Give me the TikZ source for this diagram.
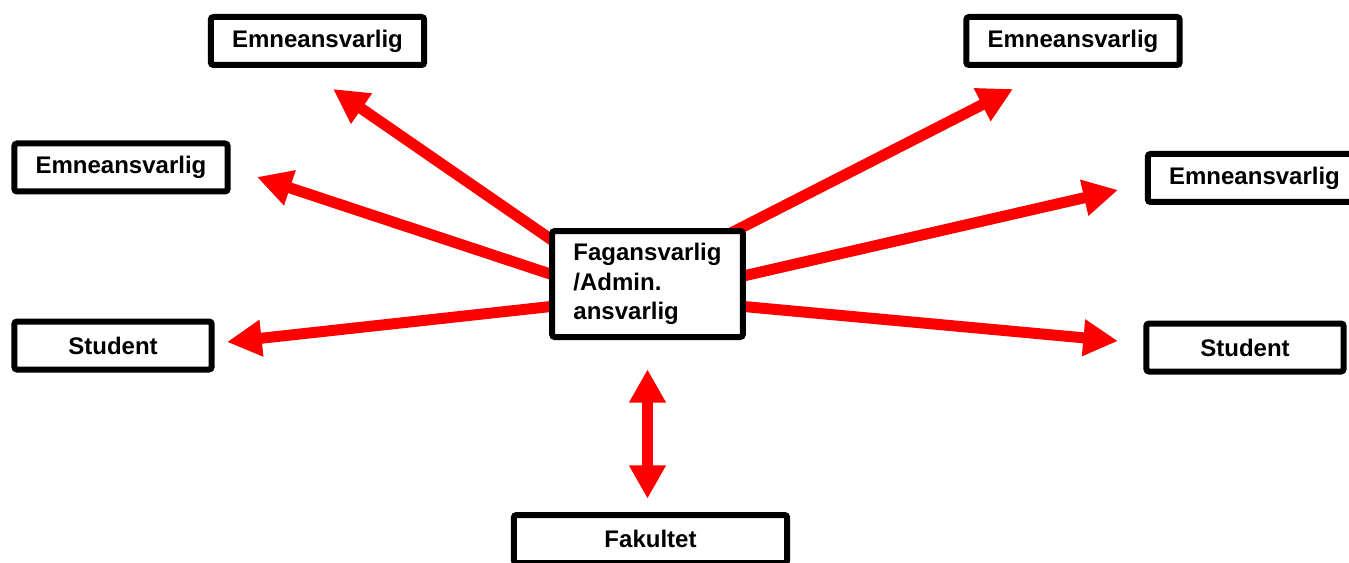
\documentclass[tikz,border=0pt]{standalone}
\usepackage{fontspec}
\setmainfont{Liberation Sans}
\usetikzlibrary{arrows.meta,backgrounds}

\tikzset{
  boks/.style={draw=black,line width=4.5pt,rounded corners=2pt,fill=white,
    inner sep=0pt,minimum width=160pt,minimum height=36pt,
    font=\bfseries\fontsize{18}{22}\selectfont},
  pil/.style={draw=red,line width=8.25pt,-{Triangle[width=26pt,length=26pt]},
    shorten <=-8pt},
  dobbelpil/.style={draw=red,line width=8.5pt,
    {Triangle[width=26pt,length=25pt]}-{Triangle[width=26pt,length=25pt]}}
}

\begin{document}
\begin{tikzpicture}[x=0.75pt,y={(0pt,-0.75pt)}]
    \useasboundingbox (0,0) rectangle (1349,563);
    %midten
    \node[boks,minimum width=143pt,minimum height=79.5pt,align=left] (fag) at (647.5,284)
        {Fagansvarlig\\/Admin.\\ansvarlig};
    %venstre side
    \node[boks] (emTV) at (317.5,41) {Emneansvarlig};
    \node[boks] (emV) at (121,167.5) {Emneansvarlig};
    \node[boks,minimum width=148pt] (stV) at (113,345.5) {Student};
    %hoyre side
    \node[boks] (emTH) at (1073,41) {Emneansvarlig};
    \node[boks] (emH) at (1254.5,178) {Emneansvarlig};
    \node[boks,minimum width=148pt] (stH) at (1245,347.5) {Student};
    %nede
    \node[boks,minimum width=205pt] (fak) at (650.5,539) {Fakultet};

    %pilspisser
    \coordinate (pTV) at (333,89);
    \coordinate (pV) at (257,177);
    \coordinate (pSV) at (227,342);
    \coordinate (pTH) at (1013,89);
    \coordinate (pH) at (1118,190);
    \coordinate (pSH) at (1118,341);

    \begin{scope}[on background layer]
        \draw[pil] (fag.155) -- (pTV);
        \draw[pil] (fag.174) -- (pV);
        \draw[pil] (fag.193) -- (pSV);
        \draw[pil] (fag.31) -- (pTH);
        \draw[pil] (fag.5) -- (pH);
        \draw[pil] (fag.347) -- (pSH);
    \end{scope}
    \draw[dobbelpil] ([yshift=-22pt]fag.south) -- ([yshift=10pt]fag.south |- fak.north);
\end{tikzpicture}
\end{document}
